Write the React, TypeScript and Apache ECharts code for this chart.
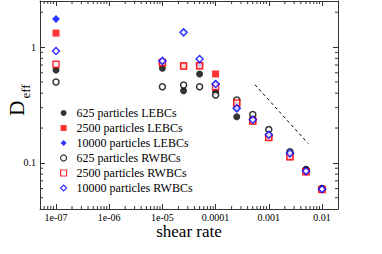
import React, { useEffect, useRef } from 'react';
import * as echarts from 'echarts';

const shearRates = [1e-7, 1e-5, 2.5e-5, 5e-5, 1e-4, 2.5e-4, 5e-4, 1e-3, 2.5e-3, 5e-3, 1e-2];
const lebc625 = [0.634, 0.656, 0.42, 0.586, 0.412, 0.25, 0.24, 0.17, 0.12, 0.088, 0.06];
const lebc2500 = [1.32, 0.74, 0.687, 0.69, 0.586, 0.329, 0.23, 0.166, 0.113, 0.084, 0.059];
const lebc10000 = [1.75, 0.75, null, 0.71, 0.48, 0.296, 0.236, 0.175, 0.121, 0.085, 0.0594];
const rwbc625 = [0.5, 0.455, 0.471, 0.455, 0.386, 0.349, 0.262, 0.194, 0.125, 0.087, 0.06];
const rwbc2500 = [0.71, 0.733, 0.687, 0.69, 0.455, 0.329, 0.23, 0.166, 0.113, 0.084, 0.059];
const rwbc10000 = [0.925, 0.76, 1.34, 0.79, 0.48, 0.296, 0.236, 0.175, 0.121, 0.085, 0.0594];

const seriesNames = [
  '625 particles LEBCs',
  '2500 particles LEBCs',
  '10000 particles LEBCs',
  '625 particles RWBCs',
  '2500 particles RWBCs',
  '10000 particles RWBCs',
];

const guideX = [5.5e-4, 5.5e-3];
const guideY = [0.473, 0.147];

const xTickValues = [1e-7, 1e-6, 1e-5, 1e-4, 1e-3, 1e-2];
const xTickLabels = ['1e-07', '1e-06', '1e-05', '0.0001', '0.001', '0.01'];
const yTickValues = [0.1, 1];
const yTickLabels = ['0.1', '1'];

const xMin = 5e-8;
const xMax = 0.02;
const yMin = 0.04;
const yMax = 2.5;

const xDecades = [1e-8, 1e-7, 1e-6, 1e-5, 1e-4, 1e-3, 1e-2];
const yDecades = [0.01, 0.1, 1];
const minorMultipliers = [2, 3, 4, 5, 6, 7, 8, 9];

export default function App() {
  const ref = useRef<HTMLDivElement>(null);
  useEffect(() => {
    const chart = echarts.init(ref.current!, null, { renderer: 'svg' });
    const font = 'Liberation Serif';
    const axisColor = '#333';

    const pairs = (ys: (number | null)[]) =>
      shearRates
        .map((x, i) => (ys[i] == null ? null : [x, ys[i]]))
        .filter((p) => p !== null);

    const labelFor = (values: number[], labels: string[]) => (v: number) => {
      for (let i = 0; i < values.length; i++) {
        if (Math.abs(Math.log10(v) - Math.log10(values[i])) < 1e-6) return labels[i];
      }
      return '';
    };

    const xMinor: number[] = [];
    xDecades.forEach((d) =>
      minorMultipliers.forEach((m) => {
        const v = d * m;
        if (v > xMin && v < xMax) xMinor.push(v);
      })
    );
    const yMinor: number[] = [];
    yDecades.forEach((d) =>
      minorMultipliers.forEach((m) => {
        const v = d * m;
        if (v > yMin && v < yMax) yMinor.push(v);
      })
    );
    const tickData: number[][] = [];
    xMinor.forEach((v) => {
      tickData.push([v, yMin, 0]);
      tickData.push([v, yMax, 1]);
    });
    yMinor.forEach((v) => {
      tickData.push([xMin, v, 2]);
      tickData.push([xMax, v, 3]);
    });

    const baseAxis = {
      type: 'log',
      logBase: 10,
      splitLine: { show: false },
      axisLine: { show: true, lineStyle: { color: axisColor, width: 1 } },
      axisTick: { show: true, inside: true, length: 5, lineStyle: { color: axisColor, width: 1 } },
    };

    const open = (color: string) => ({ color: '#ffffff', borderColor: color, borderWidth: 1.5 });

    const option: any = {
      animation: false,
      backgroundColor: '#ffffff',
      grid: { left: 40, top: 1, width: 298, height: 208, containLabel: false, outerBoundsMode: 'none' },
      xAxis: [
        {
          ...baseAxis,
          position: 'bottom',
          min: xMin,
          max: xMax,
          name: 'shear rate',
          nameLocation: 'middle',
          nameGap: 14,
          nameMoveOverlap: false,
          nameTextStyle: { fontFamily: font, fontSize: 17, color: '#000' },
          axisLabel: {
            fontFamily: font,
            fontSize: 10,
            color: '#000',
            margin: 3,
            formatter: labelFor(xTickValues, xTickLabels),
          },
        },
        {
          ...baseAxis,
          position: 'top',
          min: xMin,
          max: xMax,
          axisLabel: { show: false },
        },
      ],
      yAxis: [
        {
          ...baseAxis,
          position: 'left',
          min: yMin,
          max: yMax,
          name: '{D|D}{s|eff}',
          nameLocation: 'middle',
          nameGap: 8,
          nameMoveOverlap: false,
          nameTextStyle: {
            color: '#000',
            padding: [0, 0, 0, 10],
            rich: {
              D: { fontFamily: font, fontSize: 21, color: '#000', verticalAlign: 'bottom', padding: [0, 0, 5, 0] },
              s: { fontFamily: font, fontSize: 13, color: '#000', verticalAlign: 'bottom', padding: [0, 0, 0, 2] },
            },
          },
          axisLabel: {
            fontFamily: font,
            fontSize: 10,
            color: '#000',
            margin: 4,
            formatter: labelFor(yTickValues, yTickLabels),
          },
        },
        {
          ...baseAxis,
          position: 'right',
          min: yMin,
          max: yMax,
          axisLabel: { show: false },
        },
      ],
      legend: {
        data: seriesNames,
        orient: 'vertical',
        left: 60,
        top: 107,
        padding: 0,
        itemWidth: 6,
        itemHeight: 6,
        itemGap: 3,
        selectedMode: false,
        itemStyle: { borderWidth: 1.2 },
        textStyle: { fontFamily: font, fontSize: 12, color: '#000', padding: [0, 0, 0, 5] },
      },
      series: [
        {
          type: 'custom',
          silent: true,
          renderItem: (params: any, api: any) => {
            const p = api.coord([api.value(0), api.value(1)]);
            const side = api.value(2);
            const L = 3;
            let x2 = p[0];
            let y2 = p[1];
            if (side === 0) y2 -= L;
            else if (side === 1) y2 += L;
            else if (side === 2) x2 += L;
            else x2 -= L;
            return {
              type: 'line',
              shape: { x1: p[0], y1: p[1], x2, y2 },
              style: { stroke: axisColor, lineWidth: 1 },
            };
          },
          data: tickData,
          z: 1,
        },
        {
          type: 'line',
          data: guideX.map((x, i) => [x, guideY[i]]),
          showSymbol: false,
          symbol: 'none',
          lineStyle: { color: '#000', width: 1, type: [3, 3] },
          silent: true,
        },
        {
          name: seriesNames[0],
          type: 'scatter',
          symbol: 'circle',
          symbolSize: 7,
          itemStyle: { color: '#000' },
          data: pairs(lebc625),
        },
        {
          name: seriesNames[1],
          type: 'scatter',
          symbol: 'rect',
          symbolSize: 7,
          itemStyle: { color: '#ff0000' },
          data: pairs(lebc2500),
        },
        {
          name: seriesNames[2],
          type: 'scatter',
          symbol: 'diamond',
          symbolSize: 8,
          itemStyle: { color: '#0000ff' },
          data: pairs(lebc10000),
        },
        {
          name: seriesNames[3],
          type: 'scatter',
          symbol: 'circle',
          symbolSize: 6,
          itemStyle: open('#000'),
          data: pairs(rwbc625),
        },
        {
          name: seriesNames[4],
          type: 'scatter',
          symbol: 'rect',
          symbolSize: 6,
          itemStyle: open('#ff0000'),
          data: pairs(rwbc2500),
        },
        {
          name: seriesNames[5],
          type: 'scatter',
          symbol: 'diamond',
          symbolSize: 7,
          itemStyle: open('#0000ff'),
          data: pairs(rwbc10000),
        },
      ],
    };
    chart.setOption(option);
    return () => chart.dispose();
  }, []);
  return <div ref={ref} style={{ position: 'absolute', left: 0, top: 0, width: 382, height: 254 }} />;
}
